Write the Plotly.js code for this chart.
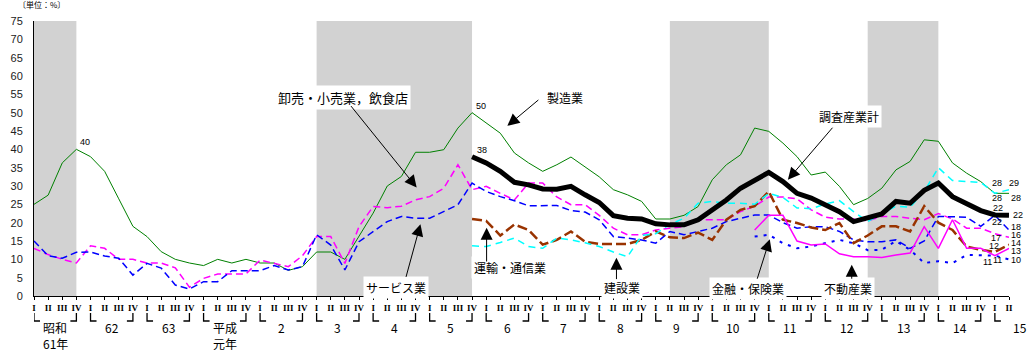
<!DOCTYPE html>
<html><head><meta charset="utf-8">
<script src="https://cdn.plot.ly/plotly-3.0.1.min.js"></script>
<style>body{margin:0;background:#fff}#chart{width:1031px;height:352px}</style>
</head><body><div id="chart"></div>
<script>
// ---- categories ----
const yearKeys = ["S61","S62","S63","H1","H2","H3","H4","H5","H6","H7","H8","H9","H10","H11","H12","H13","H14","H15"];
const yearLabels = [["昭和","61年"],["62"],["63"],["平成","元年"],["2"],["3"],["4"],["5"],["6"],["7"],["8"],["9"],["10"],["11"],["12"],["13"],["14"],["15"]];
const quarterNames = ["I","II","III","IV"];
const quarters = [];
yearKeys.forEach(y => quarterNames.forEach(q => { if (quarters.length < 70) quarters.push(y + "-" + q); }));
const recessions = [["S61-I","S61-IV"],["H3-I","H5-IV"],["H9-II","H11-I"],["H12-IV","H14-I"]];

// ---- series values (%), full period from S61-I ----
const manufacturing = [25,27.5,36.3,40,38,34,26.5,19,16.2,12.1,
  10,9,8.3,10,9,10,9,9,7,8,
  12,12,10,16.5,22.6,30,32.6,39.2,39.2,39.9,
  45.8,50,47.2,44.4,39,36.3,34,35.8,37.9,35.3,
  32.5,29,27.6,25.8,21,21,22,24.4,31.7,35.8,
  38.5,45.8,44.9,41.7,38,33,33.8,29.9,24.9,26.6,
  29.4,34.4,36.7,42.6,42.2,36.3,33.5,31.2,28,28];
const retail = [13,11.3,10,9,13.7,13,10,10,9,9,
  7.7,2.4,4.8,6,6,6,9.8,8.9,8,11,
  16.2,16.2,8.9,18.9,24.4,24.1,24.5,26.2,27.1,29.4,
  35.8,29,29.9,28,26.2,30.8,30.8,27,24.9,24.9,
  22,18.5,16.7,16.7,18,18.5,18.9,20.8,20.8,20.8,
  23,24.5,27,27,26.5,23.5,21.5,21,21,20.5,
  21.7,21.7,21.2,20.8,22.5,21,18.5,18.5,17,16];
const services = [15,11,10.3,11.9,12,10.9,10.3,5.7,8.9,7.6,
  3,1.9,3.9,3.9,6.9,6.9,6.9,8.3,7.1,8,
  16.7,13.9,7.1,14.8,17.6,20.3,21.7,21.2,21.2,23,
  24.9,30.8,28.5,27.1,26,24.6,24.6,24.7,23.3,22.9,
  20.8,16.2,15.8,15.3,14.4,17.6,16.7,17.6,18.5,20.3,
  21.2,22.1,22.1,20,18.5,18.9,18.9,17.6,15.3,14.8,
  14.8,15.3,13,15,21.7,21.5,21.5,19,22,18];
// from H5-IV
const allIndustries = [38,36.3,34,31,30.3,29.2,29.1,29.9,27.6,25.5,
  21.9,21.2,21,19.7,19.4,19.4,20.8,23.5,26.2,29.4,
  31.7,33.7,31.2,28,26.7,24.9,23,20.3,21.2,22.4,
  25.8,25.3,28.8,30.8,27.1,25.3,23.3,22.1,22];
const transport = [21,20.5,16.5,19.5,18,14,15.3,17.6,14.8,14.2,
  14.2,14.2,15.3,17.6,16,15.8,17.3,15.3,20.8,23.5,
  24.5,28.5,20.8,19.9,18.7,18,19.9,14.4,16.5,19,
  19,17.6,24.5,20,18,13.5,12.6,12,14];
const construction = [13.7,13.5,14.6,15.8,13.5,13,15.8,15.3,14.5,13.5,
  12,10.7,16.5,17,19.5,21.2,25.3,25.8,25.3,25.3,
  25,28,26.9,24,23.8,25.1,26,23,20.3,22.5,
  24.5,24.2,28.5,35,31.5,31.2,31,28,29];
// from H10-IV
const finance = [16.2,16.7,14.4,13,13.5,14.4,15.3,14.4,12.5,12.6,15,12.6,9,9.5,9,11.2,11,11,10];
const realEstate = [18,22,22,15,13.9,14.2,11.5,10.7,10.7,10.5,11.2,11.7,18.9,13,20.8,13,13,11,13];

const idx = q => quarters.indexOf(q);
const xs = start => quarters.slice(idx(start)).map(q => idx(q));
const pxPerQ = 975 / (quarters.length - 1);

const series = [
  {name:"製造業", y:manufacturing, start:"S61-I", color:"#008000", width:1, dash:"solid", lab:[[2,-5],[7,-5]]},
  {name:"卸売・小売業，飲食店", y:retail, start:"S61-I", color:"#ff00ff", width:1.5, dash:"7px,4px", lab:[[1,-4],[7,2]]},
  {name:"サービス業", y:services, start:"S61-I", color:"#0000ff", width:1.5, dash:"7px,4px", lab:[[2,-6.5],[7,3]]},
  {name:"運輸・通信業", y:transport, start:"H5-IV", color:"#993300", width:2.5, dash:"10px,4px", lab:[[-1,6],[7,2]]},
  {name:"建設業", y:construction, start:"H5-IV", color:"#00ffff", width:1.5, dash:"7px,5px", lab:[[2,10],[5,6.6]]},
  {name:"金融・保険業", y:finance, start:"H10-IV", color:"#0000ff", width:2, dash:"3px,6px", lab:[[-7,-6],[7,-1]]},
  {name:"不動産業", y:realEstate, start:"H10-IV", color:"#ff00ff", width:1.5, dash:"solid", lab:[[3,-4],[7,-2.5]]},
  {name:"調査産業計", y:allIndustries, start:"H5-IV", color:"#000000", width:5, dash:"solid", lab:[[3,6.5],[9,0]]}
];

const traces = series.map(s => ({
  type:"scatter", mode:"lines", name:s.name, x:xs(s.start), y:s.y,
  line:{color:s.color, width:s.width, dash:s.dash}, hoverinfo:"skip", showlegend:false
}));

const shapes = recessions.map(r => ({
  type:"rect", xref:"x", yref:"paper", x0:idx(r[0]), x1:idx(r[1]), y0:0, y1:1,
  fillcolor:"#d2d2d2", line:{width:0}, layer:"below"
}));

const annotations = [];
const small = {family:"Liberation Sans, Arial", size:9, color:"#000"};
const last = quarters.length - 1;
// year brackets and labels
yearKeys.forEach((y, k) => {
  const s = idx(y + "-I"), e = idx(y + "-IV");
  shapes.push({type:"path", xref:"x", yref:"paper", xsizemode:"pixel", ysizemode:"pixel",
    xanchor:s, yanchor:0, path:"M0,-17 L0,-25 L6,-25", line:{color:"#000", width:1.3}});
  if (e >= 0) shapes.push({type:"path", xref:"x", yref:"paper", xsizemode:"pixel", ysizemode:"pixel",
    xanchor:e, yanchor:0, path:"M-6,-25 L0,-25 L0,-17", line:{color:"#000", width:1.3}});
  const cx = s + 1.5, ax = Math.min(cx, last);
  yearLabels[k].forEach((t, j) => annotations.push({
    x:ax, y:0, xref:"x", yref:"paper", yanchor:"middle", xanchor:"center",
    xshift:(cx - ax) * pxPerQ + (cx > last ? 4 : 0), yshift:-31 - 16*j,
    text:t, showarrow:false, font:{family:"Noto Sans CJK JP", size:12, color:"#000"}
  }));
});

// end-of-series value labels
series.forEach(s => {
  const n = s.y.length;
  [[n-2, last-1, 0],[n-1, last, 1]].forEach(([vi, xi, side]) => {
    annotations.push({x:xi, y:s.y[vi], xref:"x", yref:"y", text:String(Math.round(s.y[vi])),
      showarrow:false, borderpad:0, xshift:s.lab[side][0], yshift:s.lab[side][1], font:small});
  });
});
// peak labels
const pk = {family:"Liberation Sans", size:9, color:"#000"};
annotations.push({x:idx("S61-IV"), y:manufacturing[idx("S61-IV")], text:String(Math.round(manufacturing[idx("S61-IV")])), showarrow:false, xshift:9, yshift:7, font:pk});
annotations.push({x:idx("H5-IV"), y:manufacturing[idx("H5-IV")], text:String(Math.round(manufacturing[idx("H5-IV")])), showarrow:false, xshift:9, yshift:7, font:pk});
annotations.push({x:idx("H5-IV"), y:allIndustries[0], text:String(Math.round(allIndustries[0])), showarrow:false, xshift:10, yshift:7, font:pk});

// series name labels and arrows (label centre in data units, arrow tail -> tip)
const jp = {family:"Noto Sans CJK JP", size:12, color:"#000"};
const callouts = [
  {text:"卸売・小売業，飲食店", at:[21.9,54.1], size:13, tail:[22.35,52.2], tip:[27.08,29.6]},
  {text:"製造業", at:[37.6,54.1], size:12, tail:[35.8,53.8], tip:[33.5,46.4]},
  {text:"調査産業計", at:[57.7,49], size:12, tail:[56.6,46.3], tip:[53.35,31.7]},
  {text:"サービス業", at:[25.6,2.2], size:12, tail:[26.3,4.8], tip:[27.35,19.6]},
  {text:"運輸・通信業", at:[33.7,7.7], size:12, tail:[32.03,9.0], tip:[32.03,18.6]},
  {text:"建設業", at:[41.6,2.2], size:12, tail:[41.22,4.2], tip:[41.22,10.4]},
  {text:"金融・保険業", at:[50.5,2.0], size:12, tail:[51.15,4.3], tip:[52.07,15.5]},
  {text:"不動産業", at:[57.6,2.0], size:12, tail:[57.87,4.3], tip:[57.87,8.5]}
];
callouts.forEach(c => {
  annotations.push({x:c.at[0], y:c.at[1], xref:"x", yref:"y", text:c.text, showarrow:false,
    font:Object.assign({}, jp, {size:c.size}), bgcolor:"#ffffff", borderpad:2});
  annotations.push({x:c.tip[0], y:c.tip[1], ax:c.tail[0], ay:c.tail[1], xref:"x", yref:"y",
    axref:"x", ayref:"y", text:"", showarrow:true, arrowhead:2, arrowsize:2.4, arrowwidth:1,
    arrowcolor:"#000", standoff:0, startstandoff:0});
});
annotations.push({x:0, y:1, xref:"paper", yref:"paper", xanchor:"left", yanchor:"bottom", xshift:-17, yshift:10,
  borderpad:0, text:"〔単位：%〕", showarrow:false, font:{family:"Noto Sans CJK JP", size:8, color:"#000"}});

const layout = {
  width:1031, height:352,
  margin:{l:34, r:22, t:21, b:56},
  paper_bgcolor:"#fff", plot_bgcolor:"#fff",
  showlegend:false,
  xaxis:{type:"linear", range:[0, last], tickvals:quarters.map((q,i)=>i),
    ticktext:quarters.map(q => q.split("-")[1]), tickangle:0,
    tickfont:{family:"Liberation Serif", size:9, color:"#000", weight:"bold"},
    showline:true, linecolor:"#000", linewidth:1, ticks:"outside", ticklen:3, tickcolor:"#000",
    showgrid:false, zeroline:false, fixedrange:true},
  yaxis:{range:[0,75], tick0:0, dtick:5, showline:true, linecolor:"#000", linewidth:1,
    ticks:"", ticklabelstandoff:8, showgrid:false, zeroline:false,
    tickfont:{family:"Liberation Sans", size:11, color:"#222"}},
  shapes:shapes, annotations:annotations
};
Plotly.newPlot("chart", traces, layout, {staticPlot:true, displayModeBar:false});
</script></body></html>
